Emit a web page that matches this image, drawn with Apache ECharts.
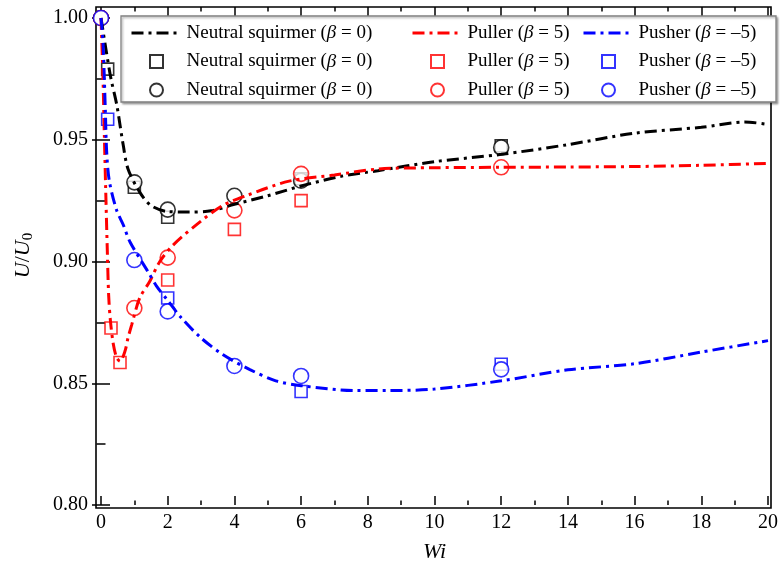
<!DOCTYPE html>
<html>
<head>
<meta charset="utf-8">
<script src="https://cdn.jsdelivr.net/npm/echarts@6/dist/echarts.min.js"></script>
<style>
html, body { margin: 0; padding: 0; background: #fff; }
#chart { width: 781px; height: 568px; }
</style>
</head>
<body>
<div id="chart"></div>
<script>
// fitted curves: [Wi, U/U0]
const neutralCurve = [[0, 1.0], [0.15, 0.987], [0.3, 0.975], [0.47, 0.9645], [0.67, 0.9475], [0.81, 0.938], [1.16, 0.9285], [1.5, 0.923], [2, 0.9205], [2.6, 0.9203], [3.3, 0.9208], [4, 0.9235], [5, 0.927], [6, 0.931], [7.2, 0.935], [8.3, 0.9373], [10, 0.941], [12, 0.944], [14, 0.948], [16, 0.9527], [18, 0.9551], [19.3, 0.9573], [20, 0.9563]];
const pullerCurve = [[0, 1.0], [0.06, 0.975], [0.1, 0.952], [0.14, 0.93], [0.19, 0.904], [0.23, 0.886], [0.28, 0.876], [0.37, 0.866], [0.47, 0.8605], [0.57, 0.859], [0.72, 0.8632], [0.81, 0.8686], [0.92, 0.874], [1.16, 0.885], [1.46, 0.8918], [1.76, 0.8999], [2.16, 0.9067], [2.96, 0.9162], [3.65, 0.923], [4.35, 0.927], [5.64, 0.933], [7, 0.9355], [8.33, 0.938], [10, 0.9385], [12, 0.9387], [14, 0.9388], [16, 0.939], [18, 0.9395], [20, 0.9403]];
const pusherCurve = [[0, 1.0], [0.06, 0.99], [0.1, 0.975], [0.13, 0.962], [0.17, 0.945], [0.25, 0.933], [0.47, 0.921], [0.67, 0.915], [0.87, 0.908], [1.4, 0.896], [1.66, 0.89], [2, 0.884], [2.4, 0.877], [3, 0.8686], [3.65, 0.8618], [4.45, 0.8557], [5.24, 0.851], [6, 0.849], [7.6, 0.847], [8.6, 0.847], [10, 0.8476], [12, 0.851], [14, 0.8555], [16, 0.858], [18, 0.8628], [20, 0.8675]];

// squares
const neutralSquares = [[0.2, 0.979], [1, 0.9305], [2, 0.9182], [6, 0.934], [12, 0.9475]];
const pullerSquares = [[0.3, 0.8727], [0.57, 0.8585], [2, 0.8924], [4, 0.9132], [6, 0.925]];
const pusherSquares = [[0.2, 0.9584], [2, 0.885], [6, 0.8466], [12, 0.8578]];

// circles
const neutralCircles = [[0, 1.0], [1, 0.9325], [2, 0.9213], [4, 0.927], [6, 0.9332], [12, 0.9468]];
const pullerCircles = [[0, 1.0], [1, 0.8809], [2, 0.9016], [4, 0.921], [6, 0.936], [12, 0.9387]];
const pusherCircles = [[0, 1.0], [1, 0.9006], [2, 0.8795], [4, 0.8571], [6, 0.853], [12, 0.8557]];

const FONT = 'Liberation Serif';
const BLACK = '#000000', RED = '#ff0000', BLUE = '#0000ff';
const SQUARE = 'path://M0,0H10V10H0Z';

const labels = {
  nLine: 'Neutral squirmer ({i|β} = 0)', nSq: 'Neutral squirmer ({i|β} = 0)', nCirc: 'Neutral squirmer ({i|β} = 0)',
  pLine: 'Puller ({i|β} = 5)', pSq: 'Puller ({i|β} = 5)', pCirc: 'Puller ({i|β} = 5)',
  uLine: 'Pusher ({i|β} = –5)', uSq: 'Pusher ({i|β} = –5)', uCirc: 'Pusher ({i|β} = –5)'
};

function curve(name, data, color) {
  return {
    name: name, type: 'line', data: data, smooth: 0.3, symbol: 'none', clip: false,
    lineStyle: { color: color, width: 3, type: [12, 5, 3, 5], cap: 'butt' },
    itemStyle: { color: color }
  };
}
function marks(name, data, color, shape, size) {
  return {
    name: name, type: 'scatter', data: data, symbol: shape, symbolSize: size, clip: false,
    itemStyle: { color: '#fff', borderColor: color, borderWidth: 1.6 }
  };
}
// one legend column: line, square, circle
function legendCol(key, left) {
  return {
    data: [
      { name: key + 'Line', itemStyle: { opacity: 0 } },
      { name: key + 'Sq', icon: SQUARE },
      { name: key + 'Circ' }
    ],
    orient: 'vertical', left: left, top: 17, symbolKeepAspect: true,
    itemWidth: 50, itemHeight: 13, itemGap: 6.5, selectedMode: false,
    lineStyle: { width: 3 },
    formatter: n => labels[n],
    textStyle: {
      color: '#000', fontFamily: FONT, fontSize: 19, lineHeight: 22,
      rich: { i: { fontStyle: 'italic', fontFamily: FONT, fontSize: 19, color: '#000' } }
    }
  };
}

const tickStyle = { color: '#000', width: 1.5 };
const majorTick = { inside: true, length: 9, lineStyle: tickStyle };
const minorTick = { show: true, splitNumber: 2, length: 4.5, lineStyle: tickStyle };

let chart = echarts.init(document.getElementById('chart'));
let option = {
  animation: false,
  grid: [
    { left: 101, right: 10, top: 18, bottom: 60 },
    // frame
    { left: 96, right: 10, top: 7, bottom: 60, show: true, borderColor: '#000', borderWidth: 1.6, backgroundColor: 'transparent' }
  ],
  graphic: [{
    type: 'rect', z: 3,
    shape: { x: 121, y: 16, width: 655, height: 86 },
    style: { fill: '#fff', stroke: '#808080', lineWidth: 1.3, shadowBlur: 2, shadowOffsetX: 1.5, shadowOffsetY: 1.5, shadowColor: 'rgba(0,0,0,0.3)' }
  }],
  legend: [
    legendCol('n', 125),
    legendCol('p', 406),
    legendCol('u', 577)
  ],
  xAxis: [
    {
      gridIndex: 0, type: 'value', min: 0, max: 20, interval: 2, position: 'bottom',
      axisLine: { show: false }, axisTick: majorTick, minorTick: minorTick, splitLine: { show: false },
      axisLabel: { color: '#000', fontFamily: FONT, fontSize: 20, margin: 8 },
      name: 'Wi', nameLocation: 'middle', nameGap: 36,
      nameTextStyle: { color: '#000', fontFamily: FONT, fontSize: 22, fontStyle: 'italic' }
    },
    {
      gridIndex: 0, type: 'value', min: 0, max: 20, interval: 2, position: 'top', offset: 11,
      axisLine: { show: false }, axisTick: majorTick, minorTick: minorTick, splitLine: { show: false },
      axisLabel: { show: false }
    },
    { gridIndex: 1, type: 'value', min: 0, max: 1, show: false }
  ],
  yAxis: [
    {
      gridIndex: 0, type: 'value', min: 0.8, max: 1.0, interval: 0.05, position: 'left', offset: 5,
      axisLine: { show: false }, axisTick: majorTick, minorTick: minorTick, splitLine: { show: false },
      axisLabel: { color: '#000', fontFamily: FONT, fontSize: 20, margin: 8, formatter: v => v.toFixed(2) },
      name: '{i|U}/{i|U}{s|0}', nameLocation: 'middle', nameRotate: 90, nameGap: 60,
      nameTextStyle: {
        color: '#000', fontFamily: FONT, fontSize: 22, padding: [0, 0, 0, 12],
        rich: {
          i: { fontStyle: 'italic', fontFamily: FONT, fontSize: 22, color: '#000' },
          s: { fontFamily: FONT, fontSize: 15, color: '#000', padding: [10, 0, 0, 0] }
        }
      }
    },
    {
      gridIndex: 0, type: 'value', min: 0.8, max: 1.0, interval: 0.05, position: 'right',
      axisLine: { show: false }, axisTick: majorTick, minorTick: minorTick, splitLine: { show: false },
      axisLabel: { show: false }
    },
    { gridIndex: 1, type: 'value', min: 0, max: 1, show: false }
  ],
  series: [
    curve('nLine', neutralCurve, BLACK),
    curve('pLine', pullerCurve, RED),
    curve('uLine', pusherCurve, BLUE),
    marks('nSq', neutralSquares, BLACK, 'rect', 12),
    marks('pSq', pullerSquares, RED, 'rect', 12),
    marks('uSq', pusherSquares, BLUE, 'rect', 12),
    marks('nCirc', neutralCircles, BLACK, 'circle', 15),
    marks('pCirc', pullerCircles, RED, 'circle', 15),
    marks('uCirc', pusherCircles, BLUE, 'circle', 15)
  ]
};
chart.setOption(option);
</script>
</body>
</html>
